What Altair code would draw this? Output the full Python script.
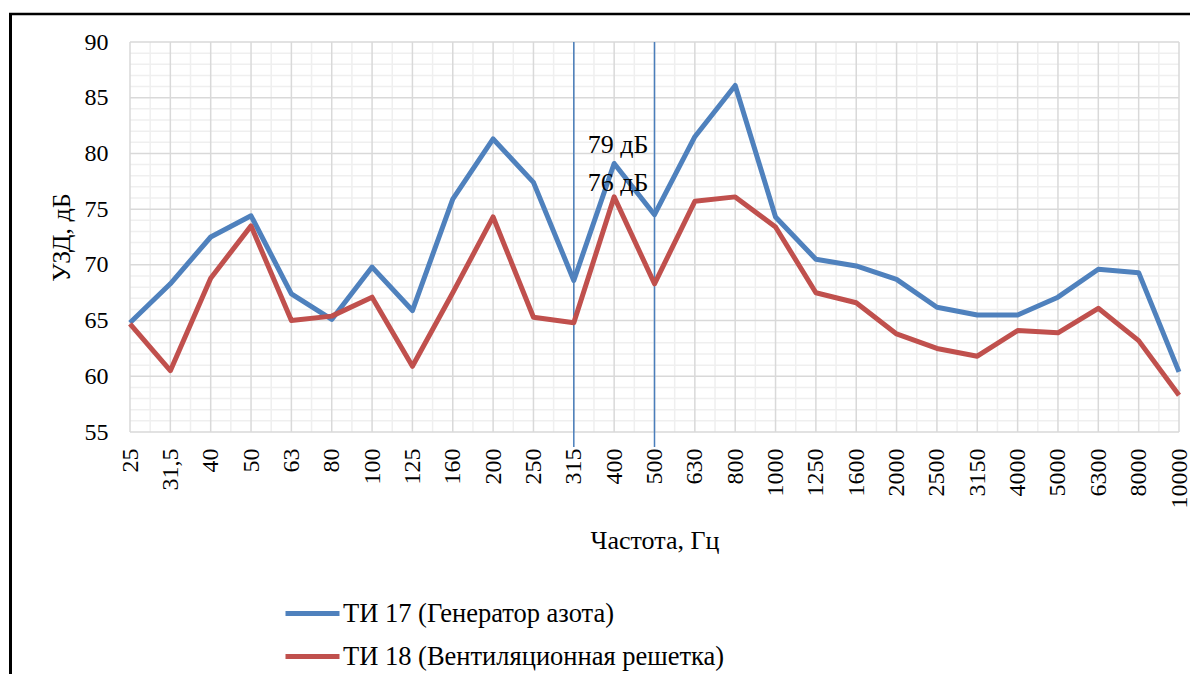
import altair as alt
import pandas as pd

categories = ["25", "31,5", "40", "50", "63", "80", "100", "125", "160", "200",
              "250", "315", "400", "500", "630", "800", "1000", "1250", "1600",
              "2000", "2500", "3150", "4000", "5000", "6300", "8000", "10000"]
ti17 = [64.8, 68.3, 72.5, 74.4, 67.4, 65.1, 69.8, 65.9, 75.9, 81.3,
        77.4, 68.6, 79.1, 74.5, 81.5, 86.1, 74.3, 70.5, 69.9,
        68.7, 66.2, 65.5, 65.5, 67.1, 69.6, 69.3, 60.4]
ti18 = [64.7, 60.5, 68.8, 73.5, 65.0, 65.4, 67.1, 60.9, 67.5, 74.3,
        65.3, 64.8, 76.1, 68.3, 75.7, 76.1, 73.4, 67.5, 66.6,
        63.8, 62.5, 61.8, 64.1, 63.9, 66.1, 63.2, 58.3]
series_names = ["ТИ 17 (Генератор азота)", "ТИ 18 (Вентиляционная решетка)"]
colors = ["#4F81BD", "#C0504D"]
marked_cats = ["315", "500"]
note_cat = "400"
note_texts = ["79 дБ", "76 дБ"]
note_values = [79, 76]
y_min, y_max = 55, 90

W, H = 1049, 390
FONT = "Liberation Serif"
N = len(categories)

rows = []
for i, c in enumerate(categories):
    rows.append({"i": i, "v": ti17[i], "s": series_names[0]})
    rows.append({"i": i, "v": ti18[i], "s": series_names[1]})
df = pd.DataFrame(rows)

xscale = alt.Scale(domain=[0, N - 1], nice=False, zero=False)
yscale = alt.Scale(domain=[y_min, y_max], nice=False, zero=False)
label_expr = "[" + ",".join("'%s'" % c for c in categories) + "][datum.value]"

XAXIS = alt.Axis(values=list(range(N)), labelExpr=label_expr, labelAngle=270,
                 labelAlign="right", labelBaseline="middle",
                 grid=False, domain=False, ticks=False, tickSize=0,
                 labelPadding=16, labelFont=FONT, labelFontSize=24,
                 labelColor="#000000", labelOverlap=False,
                 title="Частота, Гц", titleFont=FONT, titleFontSize=26,
                 titleFontWeight="normal", titleColor="#000000",
                 titleY=108, titleBaseline="middle")
YAXIS = alt.Axis(values=list(range(y_min, y_max + 1, 5)), grid=False, domain=False,
                 ticks=False, tickSize=0, labelPadding=22, labelFont=FONT,
                 labelFontSize=24, labelColor="#000000",
                 title="УЗД, дБ", titleFont=FONT, titleFontSize=26,
                 titleFontWeight="normal", titleColor="#000000",
                 titleAngle=270, titleX=-69, titleY=H / 2,
                 titleBaseline="middle", titleAlign="center")


def X(field):
    return alt.X(field, scale=xscale, axis=XAXIS)


def Y(field):
    return alt.Y(field, scale=yscale, axis=YAXIS)


one = pd.DataFrame({"k": [0]})

minor_y = pd.DataFrame({"v": [v for v in range(y_min, y_max + 1) if v % 5]})
major_y = pd.DataFrame({"v": list(range(y_min, y_max + 1, 5))})
minor_x = pd.DataFrame({"i": [i + 0.5 for i in range(N - 1)]})
major_x = pd.DataFrame({"i": list(range(N))})

MINOR = "#efefef"
MAJOR = "#d9d9d9"

g1 = alt.Chart(minor_y).mark_rule(color=MINOR, strokeWidth=1.5).encode(
    y=Y("v:Q"), x=alt.value(0), x2=alt.value(W))
g2 = alt.Chart(minor_x).mark_rule(color=MINOR, strokeWidth=1.5).encode(
    x=X("i:Q"), y=alt.value(0), y2=alt.value(H))
g3 = alt.Chart(major_y).mark_rule(color=MAJOR, strokeWidth=1.5).encode(
    y=Y("v:Q"), x=alt.value(0), x2=alt.value(W))
g4 = alt.Chart(major_x).mark_rule(color=MAJOR, strokeWidth=1.5).encode(
    x=X("i:Q"), y=alt.value(0), y2=alt.value(H))

vlines = alt.Chart(pd.DataFrame({"i": [categories.index(c) for c in marked_cats]})).mark_rule(
    color="#4A7EBB", strokeWidth=1.5).encode(
    x=X("i:Q"), y=alt.value(0), y2=alt.value(H + 15))

lines = alt.Chart(df).mark_line(strokeWidth=5, strokeJoin="round").encode(
    x=X("i:Q"),
    y=Y("v:Q"),
    color=alt.Color("s:N", scale=alt.Scale(domain=series_names, range=colors),
                    legend=alt.Legend(orient="none", legendX=153, legendY=542, title=None,
                                      direction="vertical", symbolType="stroke",
                                      symbolStrokeWidth=5, symbolSize=2916,
                                      labelFont=FONT, labelFontSize=26.5, labelColor="#000000",
                                      labelOffset=1, rowPadding=-2, labelLimit=600)),
    order="i:Q",
)

ni = categories.index(note_cat)
n1 = alt.Chart(pd.DataFrame({"i": [ni], "v": [note_values[0]], "t": [note_texts[0]]})).mark_text(
    font=FONT, fontSize=26, color="#000000", dy=-20, dx=4, baseline="middle").encode(
    x=X("i:Q"), y=Y("v:Q"), text="t:N")
n2 = alt.Chart(pd.DataFrame({"i": [ni], "v": [note_values[1]], "t": [note_texts[1]]})).mark_text(
    font=FONT, fontSize=26, color="#000000", dy=-15, dx=4, baseline="middle").encode(
    x=X("i:Q"), y=Y("v:Q"), text="t:N")

frame_left = alt.Chart(one).mark_rule(color="#000000", strokeWidth=3).encode(
    x=alt.value(-119.5), y=alt.value(-29), y2=alt.value(H + 400))
frame_top = alt.Chart(one).mark_rule(color="#000000", strokeWidth=2.5).encode(
    x=alt.value(-121), x2=alt.value(W + 200), y=alt.value(-28))

chart = alt.layer(g1, g2, g3, g4, vlines, lines, n1, n2, frame_left, frame_top).properties(
    width=W, height=H,
    autosize=alt.AutoSizeParams(type="none"),
    padding={"left": 122, "top": 34, "right": 11, "bottom": 242},
    background="white",
).configure_view(stroke=None)

chart.save("out.html", embed_options={"renderer": "svg", "actions": False})
